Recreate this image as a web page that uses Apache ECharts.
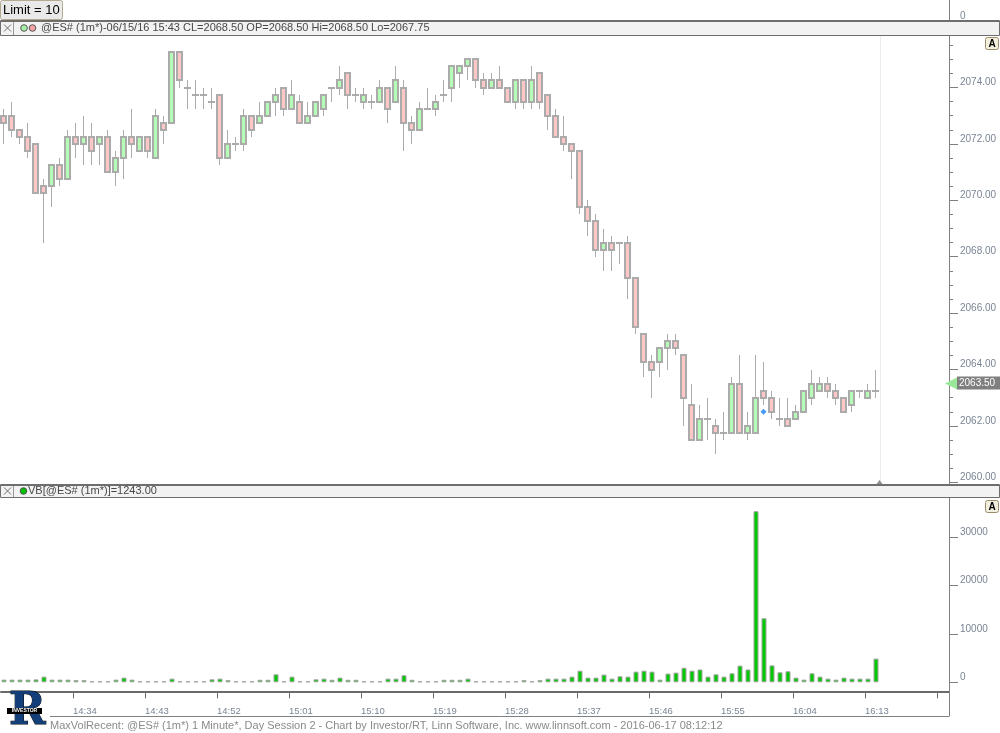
<!DOCTYPE html>
<html>
<head>
<meta charset="utf-8">
<title>@ES# 1 Minute</title>
<script src="https://cdn.jsdelivr.net/npm/echarts@6.0.0/dist/echarts.min.js"></script>
<style>
html,body{margin:0;padding:0;background:#ffffff;}
#chart{width:1000px;height:733px;}
</style>
</head>
<body>
<div id="chart"></div>
<script>
// ---------------- data ----------------
const startTime = '14:26';
const opens = [2073,2073,2072.5,2072.25,2072,2070.5,2070.5,2071.25,2070.75,2072.25,
2072,2072.25,2072,2072.25,2071,2071.5,2072.25,2071.75,2072.25,2071.5,
2072.75,2072.75,2075.25,2074,2073.75,2073.75,2073.5,2073.75,2071.5,2072,
2072,2073,2072.75,2073,2073.5,2074,2073.25,2073.5,2072.75,2073,
2073.25,2074,2074,2074.5,2073.75,2073.5,2073.5,2073.5,2074,2073.5,
2074,2072.75,2072.5,2073.25,2073.25,2073.75,2074,2074.5,2074.75,2075,
2074.25,2074,2074.25,2074,2073.5,2074.25,2073.5,2074.5,2073.75,2073,
2072.25,2072,2071.75,2069.75,2069.25,2068.25,2068.5,2068.5,2068.5,2067.25,
2065.25,2064.25,2064.25,2064.75,2065,2064.5,2062.75,2061.5,2062.25,2062,
2061.75,2061.75,2063.5,2061.75,2061.75,2063.25,2063,2062.25,2062.25,2062.25,
2062.5,2063,2063.25,2063.5,2063.25,2063,2062.75,2063.25,2063,2063.25];
const highs = [2073.25,2073.5,2072.5,2072.75,2072,2070.75,2071.25,2071.5,2072.5,2072.75,
2073,2072.75,2072.25,2072.5,2071.75,2072.5,2073.25,2072.25,2072.25,2073.25,
2073,2075.25,2075.25,2074.25,2074.25,2074,2074,2073.75,2072.5,2072.25,
2073.25,2073,2073.5,2073.5,2074,2074,2074.25,2073.75,2073.5,2073.5,
2073.75,2074,2074.75,2074.5,2074,2074,2073.75,2074.25,2074,2074.75,
2074.25,2073,2073.5,2074,2073.75,2074.25,2074.75,2074.75,2075,2075,
2074.5,2074.5,2074.75,2074,2074.25,2074.25,2074.75,2074.5,2073.75,2073.25,
2073,2072,2071.75,2070,2069.5,2069,2068.75,2068.5,2068.75,2067.25,
2065.25,2064.5,2064.75,2065.25,2065.25,2064.5,2063.5,2062.75,2063,2062.25,
2062.5,2063.75,2064.5,2062.5,2064.5,2064.25,2063.25,2063,2063,2062.75,
2063.25,2064,2063.75,2063.75,2063.5,2063,2063.25,2063.25,2063.5,2064];
const lows = [2072,2072.25,2072,2071.5,2070.25,2068.5,2069.75,2070.5,2070.75,2071.5,
2071.25,2071.25,2071.25,2071,2070.5,2070.75,2071.5,2071.75,2071.5,2071.5,
2072,2072.75,2074,2073.25,2073.25,2073.25,2073.25,2071.25,2071.5,2071.75,
2071.75,2072.25,2072.75,2073,2073,2073,2073.25,2072.75,2072.75,2073,
2073,2073.5,2073.75,2073.25,2073.5,2073.25,2073.25,2073.5,2072.75,2073.5,
2071.75,2072,2072.5,2073.25,2073,2073.5,2073.5,2074,2074.25,2074,
2073.75,2074,2074,2073.5,2073.25,2073.25,2073.25,2073.25,2072.5,2072.25,
2071.75,2070.75,2069.5,2068.75,2068,2067.5,2067.5,2067.75,2066.5,2065.25,
2063.75,2063,2063.75,2064,2064.5,2062,2061.5,2061.5,2061.5,2061,
2061.5,2061.75,2061.75,2061.5,2061.75,2062.75,2062.25,2062,2062,2062.25,
2062.5,2062.75,2063.25,2063,2062.75,2062.5,2062.5,2063,2063,2063];
const closes = [2072.75,2072.5,2072.25,2071.75,2070.25,2070.25,2071.25,2070.75,2072.25,2072,
2072.25,2071.75,2072.25,2071,2071.5,2072.25,2072,2072.25,2071.75,2073,
2072.5,2075.25,2074.25,2074,2073.75,2073.75,2073.5,2071.5,2072,2072,
2073,2072.5,2073,2073.5,2073.75,2073.25,2073.75,2072.75,2073,2073.5,
2073.75,2074,2074.25,2073.75,2073.75,2073.75,2073.5,2074,2073.25,2074.25,
2072.75,2072.5,2073.25,2073.25,2073.5,2073.75,2074.75,2074.75,2075,2074.25,
2074,2074.25,2074,2073.5,2074.25,2073.5,2074.25,2073.5,2073,2072.25,
2072,2071.75,2069.75,2069.25,2068.25,2068.5,2068.25,2068.5,2067.25,2065.5,
2064.25,2064,2064.75,2065,2064.75,2063,2061.5,2062.25,2062.25,2061.75,
2061.75,2063.5,2061.75,2062,2063,2063,2062.5,2062.25,2062,2062.5,
2063.25,2063.5,2063.5,2063.25,2063,2062.5,2063.25,2063.25,2063.25,2063.25];
const volumes = [550,550,550,550,600,1170,550,550,550,450,
450,200,200,200,550,970,550,200,200,200,
200,760,200,200,200,200,620,760,450,200,
200,200,520,520,1650,200,1170,200,200,620,
760,520,970,520,520,200,200,200,760,760,
1450,520,200,200,200,520,520,520,760,200,
200,200,200,200,200,450,200,450,760,760,
760,1170,2400,970,970,1590,760,1243,1170,2200,
2400,2200,550,1800,2000,3000,2400,2650,1170,1650,
1170,1860,3450,2650,35400,13250,3500,2070,2280,970,
550,1860,1170,760,550,970,760,760,760,4900];
const timeLabels = ['14:34','14:43','14:52','15:01','15:10','15:19','15:28','15:37','15:46','15:55','16:04','16:13'];
const markerIndex = 95;
const markerPrice = 2062.5;
const lastPrice = 2063.50;
const limitText = 'Limit = 10';
const priceHeader = '@ES# (1m*)-06/15/16 15:43 CL=2068.50 OP=2068.50 Hi=2068.50 Lo=2067.75';
const volHeader = 'VB[@ES# (1m*)]=1243.00';
const footerText = 'MaxVolRecent: @ES# (1m*) 1 Minute*, Day Session 2 - Chart by Investor/RT, Linn Software, Inc. www.linnsoft.com - 2016-06-17 08:12:12';

// ---------------- layout ----------------
const FONT = '"Liberation Sans", Arial, sans-serif';
const AXIS_TXT = '#7a8594';
const AXIS_LINE = '#808080';
const UP_FILL = '#b4fdb4', DOWN_FILL = '#ffc6c6', CANDLE_EDGE = '#ababab';
const baseMinute = parseInt(startTime.split(':')[0], 10) * 60 + parseInt(startTime.split(':')[1], 10);
const plotRight = 949;
const left0 = 0.5, left1 = 1.0;
const pxPerBar = 8;
const xMin = baseMinute - 0.375;
const xMax0 = xMin + (plotRight - left0) / pxPerBar;
const xMax1 = xMin + (plotRight - left1) / pxPerBar;

const candleData = opens.map((o, i) => [baseMinute + i, o, closes[i], lows[i], highs[i]]);
const volData = volumes.map((v, i) => [baseMinute + i, v]);

function renderCandle(params, api) {
  const t = api.value(0), o = api.value(1), c = api.value(2), l = api.value(3), h = api.value(4);
  const pO = api.coord([t, o]), pC = api.coord([t, c]);
  const pL = api.coord([t, l]), pH = api.coord([t, h]);
  const cx = Math.floor(pO[0]);
  const yTop = Math.round(Math.min(pO[1], pC[1]));
  const yBot = Math.round(Math.max(pO[1], pC[1]));
  const yH = Math.round(pH[1]), yL = Math.round(pL[1]);
  const children = [];
  if (yL - yH > 0) {
    children.push({type: 'rect', shape: {x: cx, y: yH, width: 1, height: yL - yH}, style: {fill: CANDLE_EDGE}});
  }
  if (yBot - yTop < 2) {
    children.push({type: 'rect', shape: {x: cx - 3, y: yTop - 1, width: 7, height: 2}, style: {fill: CANDLE_EDGE}});
  } else {
    children.push({type: 'rect', shape: {x: cx - 3, y: yTop - 1, width: 7, height: yBot - yTop + 2}, style: {fill: CANDLE_EDGE}});
    children.push({type: 'rect', shape: {x: cx - 1, y: yTop + 1, width: 3, height: yBot - yTop - 2},
      style: {fill: c > o ? UP_FILL : DOWN_FILL}});
  }
  return {type: 'group', children: children};
}

const chart = echarts.init(document.getElementById('chart'), null, {renderer: 'canvas'});

const option = {
  animation: false,
  backgroundColor: '#ffffff',
  grid: [
    {left: left0, width: plotRight - left0, top: 31.1, height: 451.2, outerBoundsMode: 'none', containLabel: false},
    {left: left1, width: plotRight - left1, top: 498, height: 184.3, outerBoundsMode: 'none', containLabel: false}
  ],
  xAxis: [
    {gridIndex: 0, type: 'value', min: xMin, max: xMax0, show: false},
    {gridIndex: 1, type: 'value', min: xMin, max: xMax1, interval: 9, offset: 9, position: 'bottom',
     axisLine: {show: true, onZero: false, lineStyle: {color: '#6a6a6a', width: 2}},
     axisTick: {show: true, length: 7, lineStyle: {color: '#6a6a6a', width: 1}},
     axisLabel: {show: true, align: 'left', margin: 15, color: AXIS_TXT, fontSize: 9.5, fontFamily: FONT,
       showMinLabel: false, showMaxLabel: false,
       formatter: function (v) { const n = Math.round((v - xMin) / 9); return timeLabels[n - 1] || ''; }},
     splitLine: {show: false}}
  ],
  yAxis: [
    {gridIndex: 0, type: 'value', position: 'right', min: 2060, max: 2076, interval: 2,
     axisLine: {show: true, onZero: false, lineStyle: {color: AXIS_LINE, width: 1}},
     axisTick: {show: true, length: 9, lineStyle: {color: AXIS_LINE}},
     minorTick: {show: true, splitNumber: 4, length: 4, lineStyle: {color: AXIS_LINE}},
     axisLabel: {show: true, margin: 11, color: AXIS_TXT, fontSize: 10, fontFamily: FONT, verticalAlign: 'bottom',
       showMaxLabel: false, formatter: function (v) { return v.toFixed(2); }},
     splitLine: {show: false}, minorSplitLine: {show: false}},
    {gridIndex: 1, type: 'value', position: 'right', min: 0, max: 38130, interval: 10000,
     axisLine: {show: true, onZero: false, lineStyle: {color: AXIS_LINE, width: 1}},
     axisTick: {show: true, length: 9, lineStyle: {color: AXIS_LINE}},
     axisLabel: {show: true, margin: 11, color: AXIS_TXT, fontSize: 10, fontFamily: FONT, verticalAlign: 'bottom',
       showMaxLabel: false, formatter: function (v) { return String(v); }},
     splitLine: {show: false}}
  ],
  series: [
    {type: 'custom', name: '@ES#', xAxisIndex: 0, yAxisIndex: 0, data: candleData,
     encode: {x: 0, y: [1, 2, 3, 4]}, renderItem: renderCandle, silent: true},
    {type: 'scatter', xAxisIndex: 0, yAxisIndex: 0, data: [[baseMinute + markerIndex, markerPrice]],
     symbol: 'diamond', symbolSize: 6, itemStyle: {color: '#1a7ff0'}, z: 5, silent: true},
    {type: 'bar', name: 'VB', xAxisIndex: 1, yAxisIndex: 1, data: volData, barWidth: 5,
     itemStyle: {color: '#00c800', borderColor: '#a4a4a4', borderWidth: 1},
     emphasis: {disabled: true}, silent: true}
  ]
};
chart.setOption(option);

// ---------------- decorations (positions from the chart's own scales) ----------------
const yLast = chart.convertToPixel({yAxisIndex: 0}, lastPrice);
const xEnd = chart.convertToPixel({xAxisIndex: 0}, baseMinute + opens.length - 0.5);

const els = [];
els.push({type: 'line', shape: {x1: 949.5, y1: 0, x2: 949.5, y2: 716}, style: {stroke: AXIS_LINE, lineWidth: 1}});
els.push({type: 'line', shape: {x1: 50, y1: 716.5, x2: 949.5, y2: 716.5}, style: {stroke: AXIS_LINE, lineWidth: 1}});
els.push({type: 'line', shape: {x1: Math.round(xEnd) + 0.5, y1: 36, x2: Math.round(xEnd) + 0.5, y2: 484}, style: {stroke: '#ececec', lineWidth: 1}});
els.push({type: 'polygon', shape: {points: [[xEnd - 3, 484], [xEnd + 3, 484], [xEnd, 480]]}, style: {fill: '#909090'}});
els.push({type: 'text', x: 960, y: 16, style: {text: '0', font: '10px ' + FONT, fill: AXIS_TXT, verticalAlign: 'middle'}});
els.push({type: 'rect', shape: {x: 0.5, y: 0.5, width: 62, height: 19, r: 2}, style: {fill: '#e9e9e9', stroke: '#b4aa92', lineWidth: 1}});
els.push({type: 'text', x: 3, y: 10.5, style: {text: limitText, font: '13px ' + FONT, fill: '#000000', verticalAlign: 'middle'}});

function header(y, h, text, circles, textX) {
  els.push({type: 'rect', shape: {x: 0.5, y: y + 0.5, width: 999, height: h}, style: {fill: '#f2f2f2', stroke: '#6e6e6e', lineWidth: 1}});
  els.push({type: 'line', shape: {x1: 0, y1: y + 1.5, x2: 1000, y2: y + 1.5}, style: {stroke: '#6e6e6e', lineWidth: 1}});
  els.push({type: 'line', shape: {x1: 13.5, y1: y + 2, x2: 13.5, y2: y + h}, style: {stroke: '#9a9a9a', lineWidth: 1}});
  const cy = y + h / 2 + 0.5;
  els.push({type: 'line', shape: {x1: 4, y1: cy - 3.5, x2: 11, y2: cy + 3.5}, style: {stroke: '#707070', lineWidth: 1}});
  els.push({type: 'line', shape: {x1: 11, y1: cy - 3.5, x2: 4, y2: cy + 3.5}, style: {stroke: '#707070', lineWidth: 1}});
  circles.forEach(c => {
    els.push({type: 'circle', shape: {cx: c.x, cy: cy, r: 3.3}, style: {fill: c.fill, stroke: '#555555', lineWidth: 1}});
  });
  els.push({type: 'text', x: textX, y: cy, style: {text: text, font: '11px ' + FONT, fill: '#484848', verticalAlign: 'middle'}});
}
header(20, 15, priceHeader, [{x: 24, fill: '#a6f0a6'}, {x: 32.5, fill: '#f7a2a2'}], 41);
header(484, 13, volHeader, [{x: 23.5, fill: '#00c000'}], 28);

function aButton(y) {
  els.push({type: 'rect', shape: {x: 985.5, y: y + 0.5, width: 13, height: 12, r: 2}, style: {fill: '#f3efdf', stroke: '#9c8c6c', lineWidth: 1}});
  els.push({type: 'text', x: 992, y: y + 7, style: {text: 'A', font: 'bold 10px ' + FONT, fill: '#000000', align: 'center', verticalAlign: 'middle'}});
}
aButton(37);
aButton(500);

els.push({type: 'polygon', shape: {points: [[957, yLast - 6], [945, yLast], [957, yLast + 6]]}, style: {fill: '#9be89b'}});
els.push({type: 'rect', shape: {x: 957, y: yLast - 7, width: 43, height: 13}, style: {fill: '#7f7f7f'}});
els.push({type: 'text', x: 959, y: yLast, style: {text: lastPrice.toFixed(2), font: '10px ' + FONT, fill: '#ffffff', verticalAlign: 'middle'}});

els.push({type: 'text', x: 50, y: 726, style: {text: footerText, font: '11px ' + FONT, fill: '#8a8a8a', verticalAlign: 'middle'}});
els.push({type: 'text', x: 9, y: 713, style: {text: 'R', font: 'bold 44px "DejaVu Serif", serif', fill: '#123e7a', stroke: '#000000', lineWidth: 1, verticalAlign: 'middle'}});
els.push({type: 'rect', shape: {x: 7, y: 708, width: 35, height: 6}, style: {fill: '#000000'}});
els.push({type: 'text', x: 24.5, y: 711, style: {text: 'INVESTOR', font: 'bold 5px ' + FONT, fill: '#ffffff', align: 'center', verticalAlign: 'middle'}});

chart.setOption({graphic: {elements: els.map(e => Object.assign({z: 100, silent: true}, e))}});
</script>
</body>
</html>
